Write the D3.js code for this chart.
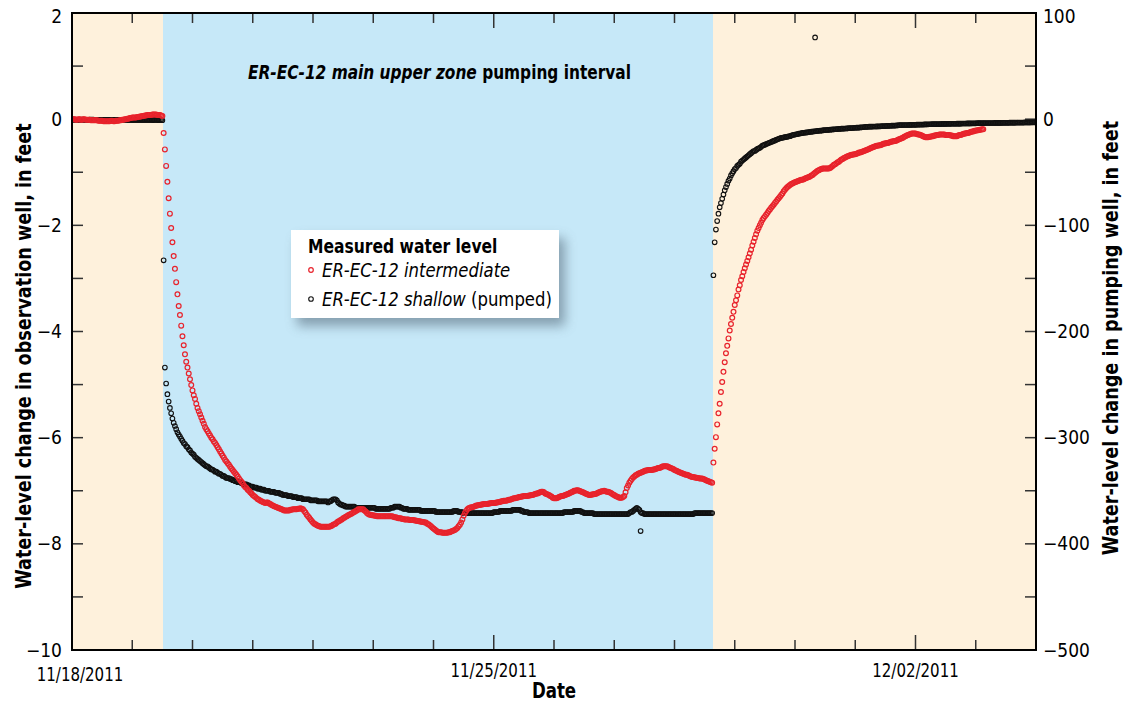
<!DOCTYPE html>
<html>
<head>
<meta charset="utf-8">
<title>ER-EC-12 water levels</title>
<script src="https://cdn.jsdelivr.net/npm/d3@7"></script>
<style>
  body { margin: 0; background: #fff; }
  text { font-family: "Liberation Sans Narrow", "Arial Narrow", "DejaVu Sans Condensed", sans-serif; }
</style>
</head>
<body>
<script>

// ---- data, 30-minute readings ----
// observation well (ER-EC-12 intermediate), feet, left axis
var redPreStart = "2011-11-18T00:00";
var redPre = [0.00,0.00,0.00,-0.01,-0.01,0.00,0.00,-0.01,-0.01,0.00,0.00,-0.01,-0.01,-0.01,-0.01,-0.02,-0.02,-0.02,-0.02,-0.02,
  -0.02,-0.03,-0.03,-0.03,-0.03,-0.04,-0.04,-0.04,-0.04,-0.04,-0.04,-0.03,-0.03,-0.04,-0.04,-0.03,-0.03,-0.03,-0.02,-0.02,
  -0.01,-0.01,0.00,0.00,0.01,0.01,0.02,0.02,0.03,0.03,0.03,0.03,0.04,0.04,0.05,0.05,0.06,0.06,0.07,0.07,
  0.08,0.08,0.08,0.08,0.09,0.09,0.09,0.09,0.08,0.08,0.08,0.07,0.06];

var redDrawdownStart = "2011-11-19T12:30";
var redDrawdown = [-0.26,-0.57,-0.88,-1.18,-1.49,-1.78,-2.05,-2.32,-2.58,-2.82,
  -3.07,-3.30,-3.52,-3.69,-3.89,-4.09,-4.26,-4.43,-4.57,-4.68,
  -4.79,-4.90,-5.01,-5.11,-5.20,-5.27,-5.36,-5.44,-5.50,-5.56,
  -5.62,-5.68,-5.74,-5.80,-5.84,-5.88,-5.92,-5.96,-6.00,-6.03,
  -6.07,-6.10,-6.14,-6.18,-6.22,-6.26,-6.30,-6.34,-6.38,-6.42,
  -6.45,-6.48,-6.51,-6.55,-6.58,-6.61,-6.64,-6.67,-6.70,-6.73,
  -6.77,-6.80,-6.83,-6.86,-6.90,-6.93,-6.95,-6.98,-7.00,-7.03,
  -7.05,-7.08,-7.10,-7.12,-7.14,-7.16,-7.17,-7.19,-7.20,-7.21,
  -7.22,-7.23];

var redPumpingStart = "2011-11-21T05:30";
var redPumping = [-7.22,
  -7.22,-7.24,-7.25,-7.27,-7.28,-7.29,-7.30,-7.31,-7.32,-7.33,-7.34,-7.35,-7.36,-7.37,-7.37,-7.37,-7.37,-7.37,-7.36,-7.36,
  -7.35,-7.35,-7.35,-7.35,-7.34,-7.34,-7.33,-7.34,-7.35,-7.38,-7.41,-7.45,-7.48,-7.51,-7.54,-7.57,-7.60,-7.62,-7.63,-7.65,
  -7.66,-7.67,-7.68,-7.68,-7.68,-7.68,-7.68,-7.68,-7.68,-7.68,-7.67,-7.66,-7.64,-7.63,-7.62,-7.60,-7.58,-7.57,-7.55,-7.54,
  -7.52,-7.51,-7.49,-7.48,-7.46,-7.45,-7.44,-7.43,-7.41,-7.40,-7.38,-7.37,-7.35,-7.35,-7.35,-7.35,-7.35,-7.37,-7.39,-7.42,
  -7.44,-7.45,-7.45,-7.46,-7.46,-7.47,-7.47,-7.48,-7.48,-7.48,-7.48,-7.48,-7.48,-7.48,-7.48,-7.48,-7.48,-7.48,-7.48,-7.48,
  -7.49,-7.50,-7.50,-7.51,-7.52,-7.52,-7.52,-7.53,-7.53,-7.54,-7.54,-7.54,-7.54,-7.55,-7.55,-7.55,-7.55,-7.56,-7.56,-7.57,
  -7.57,-7.58,-7.58,-7.59,-7.59,-7.60,-7.60,-7.62,-7.63,-7.65,-7.67,-7.69,-7.71,-7.73,-7.75,-7.77,-7.78,-7.78,-7.78,-7.79,
  -7.79,-7.79,-7.79,-7.79,-7.78,-7.78,-7.77,-7.76,-7.75,-7.74,-7.72,-7.70,-7.67,-7.64,-7.60,-7.54,-7.47,-7.42,-7.38,-7.35,
  -7.33,-7.32,-7.31,-7.31,-7.30,-7.29,-7.28,-7.28,-7.27,-7.27,-7.26,-7.26,-7.25,-7.25,-7.25,-7.25,-7.24,-7.24,-7.23,-7.23,
  -7.23,-7.23,-7.22,-7.22,-7.21,-7.21,-7.20,-7.20,-7.19,-7.19,-7.19,-7.18,-7.17,-7.17,-7.16,-7.15,-7.14,-7.14,-7.13,-7.13,
  -7.12,-7.12,-7.11,-7.11,-7.10,-7.10,-7.10,-7.10,-7.09,-7.09,-7.08,-7.08,-7.07,-7.06,-7.05,-7.05,-7.04,-7.03,-7.02,-7.02,
  -7.03,-7.05,-7.06,-7.07,-7.08,-7.10,-7.11,-7.13,-7.14,-7.14,-7.14,-7.13,-7.12,-7.11,-7.10,-7.10,-7.09,-7.08,-7.07,-7.06,
  -7.05,-7.04,-7.03,-7.02,-7.00,-7.00,-6.99,-6.99,-7.00,-7.01,-7.02,-7.03,-7.04,-7.05,-7.06,-7.07,-7.08,-7.08,-7.07,-7.07,
  -7.06,-7.06,-7.05,-7.04,-7.03,-7.02,-7.01,-7.01,-7.00,-7.01,-7.02,-7.02,-7.03,-7.04,-7.05,-7.07,-7.08,-7.10,-7.11,-7.12,
  -7.13,-7.13,-7.13,-7.12,-7.10,-7.03,-6.95,-6.90,-6.85,-6.81,-6.78,-6.75,-6.73,-6.71,-6.70,-6.68,-6.67,-6.66,-6.65,-6.64,
  -6.63,-6.62,-6.62,-6.61,-6.61,-6.61,-6.61,-6.60,-6.60,-6.59,-6.58,-6.57,-6.57,-6.56,-6.55,-6.54,-6.54,-6.54,-6.54,-6.55,
  -6.56,-6.57,-6.58,-6.59,-6.61,-6.62,-6.63,-6.64,-6.65,-6.66,-6.67,-6.68,-6.69,-6.70,-6.70,-6.71,-6.72,-6.73,-6.74,-6.74,
  -6.75,-6.75,-6.76,-6.76,-6.77,-6.77,-6.77,-6.78,-6.79,-6.80,-6.81,-6.82,-6.83,-6.84,-6.85];

var redRecoveryStart = "2011-11-28T15:30";
var redRecovery = [-6.47,-6.21,-5.99,-5.75,-5.54,-5.36,-5.14,-4.95,-4.76,-4.58,
  -4.41,-4.27,-4.13,-3.98,-3.86,-3.74,-3.63,-3.50,-3.41,-3.32,
  -3.21,-3.13,-3.03,-2.96,-2.88,-2.81,-2.74,-2.67,-2.60,-2.53,
  -2.46,-2.38,-2.31,-2.24,-2.17,-2.10];

var redLateStart = "2011-11-29T09:30";
var redLate = [-2.05,
  -2.00,-1.95,-1.90,-1.86,-1.83,-1.80,-1.77,-1.73,-1.70,-1.67,-1.64,-1.61,-1.58,-1.55,-1.52,-1.49,-1.46,-1.43,-1.40,-1.36,
  -1.33,-1.30,-1.28,-1.26,-1.24,-1.22,-1.21,-1.20,-1.19,-1.18,-1.17,-1.16,-1.15,-1.14,-1.14,-1.13,-1.12,-1.11,-1.10,-1.09,
  -1.08,-1.06,-1.05,-1.03,-1.01,-0.99,-0.97,-0.96,-0.95,-0.94,-0.93,-0.93,-0.93,-0.93,-0.93,-0.93,-0.92,-0.90,-0.88,-0.86,
  -0.85,-0.83,-0.81,-0.80,-0.78,-0.76,-0.75,-0.73,-0.72,-0.71,-0.70,-0.69,-0.68,-0.67,-0.67,-0.66,-0.66,-0.65,-0.64,-0.63,
  -0.63,-0.62,-0.61,-0.60,-0.59,-0.58,-0.57,-0.56,-0.55,-0.54,-0.53,-0.52,-0.51,-0.50,-0.50,-0.49,-0.49,-0.48,-0.47,-0.46,
  -0.46,-0.45,-0.45,-0.44,-0.43,-0.42,-0.42,-0.41,-0.41,-0.40,-0.39,-0.38,-0.37,-0.36,-0.35,-0.33,-0.32,-0.31,-0.30,-0.29,
  -0.28,-0.27,-0.27,-0.27,-0.27,-0.28,-0.29,-0.29,-0.30,-0.31,-0.32,-0.33,-0.34,-0.34,-0.34,-0.33,-0.33,-0.32,-0.32,-0.31,
  -0.31,-0.30,-0.30,-0.29,-0.29,-0.29,-0.29,-0.29,-0.30,-0.30,-0.30,-0.30,-0.31,-0.31,-0.32,-0.32,-0.32,-0.32,-0.31,-0.30,
  -0.30,-0.29,-0.28,-0.27,-0.27,-0.26,-0.26,-0.25,-0.24,-0.23,-0.23,-0.22,-0.22,-0.21,-0.21,-0.20,-0.20,-0.19,-0.19];

// pumping well (ER-EC-12 shallow), feet, right axis
var blackPreStart = "2011-11-18T00:00";
var blackPre = [-0.5,-0.5,-0.5,-0.5,-0.6,-0.6,-0.5,-0.5,-0.5,-0.5,-0.6,-0.6,-0.6,-0.6,-0.5,-0.5,-0.5,-0.5,-0.6,-0.6,
  -0.6,-0.6,-0.7,-0.7,-0.6,-0.6,-0.6,-0.6,-0.7,-0.7,-0.7,-0.7,-0.6,-0.6,-0.6,-0.6,-0.7,-0.7,-0.7,-0.7,
  -0.6,-0.6,-0.6,-0.6,-0.7,-0.7,-0.7,-0.7,-0.8,-0.8,-0.7,-0.7,-0.7,-0.7,-0.8,-0.8,-0.8,-0.8,-0.7,-0.7,
  -0.8,-0.8,-0.8,-0.8,-0.9,-0.9,-0.8,-0.8,-0.9,-0.9,-0.9,-0.9,-1.0];

var blackDrawdownStart = "2011-11-19T12:30";
var blackDrawdown = [-133,-234,-249,-259,-266,-272,-277,-282,-286,-289,
  -292,-295,-297,-299,-301,-303,-305,-306,-308,-309,
  -311,-312,-314,-315,-316,-318,-319,-320,-321,-322,
  -323,-324,-325,-326,-327,-327,-328,-329,-330,-330,
  -331,-332,-332,-333,-334,-334,-335,-336,-336,-337,
  -338,-338,-338,-339,-339,-340,-340,-341,-341,-342,
  -342,-342,-343,-343,-344,-344,-344,-345,-345,-346,
  -346,-346,-347,-347,-347,-348,-348,-348,-349,-349,
  -349,-350];

var blackPumpingStart = "2011-11-21T05:30";
var blackPumping = [-350,
  -350,-350,-351,-351,-351,-351,-352,-352,-352,-352,-353,-353,-354,-354,-354,-354,-355,-355,-355,-355,
  -356,-356,-356,-356,-357,-357,-357,-357,-358,-358,-358,-358,-358,-358,-359,-359,-359,-359,-359,-359,
  -360,-360,-360,-360,-360,-360,-360,-360,-361,-360,-360,-359,-358,-358,-358,-359,-361,-362,-363,-363,
  -364,-364,-365,-365,-365,-365,-365,-365,-365,-365,-366,-366,-366,-366,-366,-366,-366,-366,-366,-366,
  -366,-366,-366,-366,-366,-366,-367,-367,-367,-367,-367,-367,-367,-367,-367,-367,-367,-367,-366,-366,
  -366,-365,-365,-365,-365,-365,-366,-366,-367,-367,-367,-367,-368,-368,-368,-368,-368,-368,-368,-368,
  -368,-368,-369,-369,-369,-369,-369,-369,-369,-369,-369,-369,-369,-369,-370,-370,-370,-370,-370,-370,
  -370,-370,-370,-370,-370,-370,-370,-370,-369,-369,-369,-369,-370,-370,-370,-370,-371,-371,-371,-371,
  -371,-371,-371,-371,-371,-371,-371,-371,-371,-371,-371,-371,-371,-371,-371,-371,-371,-371,-371,-371,
  -370,-370,-370,-370,-370,-369,-369,-369,-369,-369,-369,-369,-369,-369,-369,-368,-368,-368,-368,-368,
  -368,-368,-369,-369,-370,-370,-370,-370,-371,-371,-371,-371,-371,-371,-371,-371,-371,-371,-371,-371,
  -371,-371,-371,-371,-371,-371,-371,-371,-371,-371,-371,-371,-371,-371,-371,-371,-370,-370,-370,-370,
  -370,-370,-370,-370,-369,-369,-369,-369,-369,-369,-370,-370,-371,-371,-371,-371,-371,-371,-371,-371,
  -372,-372,-372,-372,-372,-372,-372,-372,-372,-372,-372,-372,-372,-372,-372,-372,-372,-372,-372,-372,
  -372,-372,-372,-372,-372,-372,-372,-372,-371,-370,-370,-369,-368,-367,-366,-367,-368,-370,-371,-371,
  -372,-372,-372,-372,-372,-372,-372,-372,-372,-372,-372,-372,-372,-372,-372,-372,-372,-372,-372,-372,
  -372,-372,-372,-372,-372,-372,-372,-372,-372,-372,-372,-372,-372,-372,-372,-372,-372,-372,-372,-372,
  -371,-371,-371,-371,-371,-371,-371,-371,-371,-371,-371,-371,-371,-371,-371];

var blackRecoveryStart = "2011-11-28T15:30";
var blackRecovery = [-147,-116,-104,-96,-89,-83,-79,-75,-71,-67,
  -64,-61,-58,-56,-53,-51,-49,-47,-46,-44,
  -43,-42,-40,-39,-38,-37,-36,-35,-34,-33,
  -32,-31,-30,-30,-29,-28];

var blackLateStart = "2011-11-29T09:30";
var blackLate = [-27.5,
  -27,-26,-25,-24.5,-24,-23.5,-23,-22.5,-22,-21.5,-21,-20.5,-20,-19.5,-19,-18.5,-18,-17.7,-17.5,-17.2,
  -17,-16.7,-16.5,-16.2,-16,-15.5,-15,-14.7,-14.5,-14.2,-14,-13.7,-13.5,-13.2,-13,-12.8,-12.7,-12.5,-12.4,-12.2,
  -12,-11.8,-11.7,-11.5,-11.4,-11.2,-11.1,-10.9,-10.8,-10.7,-10.6,-10.4,-10.3,-10.2,-10.1,-10.0,-9.9,-9.8,-9.7,-9.6,
  -9.5,-9.4,-9.3,-9.2,-9.1,-9.0,-9.0,-8.9,-8.8,-8.7,-8.6,-8.5,-8.5,-8.4,-8.3,-8.2,-8.1,-8.0,-8.0,-7.9,
  -7.8,-7.7,-7.6,-7.4,-7.3,-7.2,-7.2,-7.1,-7.1,-7.0,-7.0,-6.9,-6.9,-6.8,-6.8,-6.7,-6.7,-6.6,-6.6,-6.5,
  -6.5,-6.4,-6.4,-6.3,-6.2,-6.1,-6.1,-6.0,-6.0,-5.9,-5.8,-5.7,-5.7,-5.6,-5.6,-5.5,-5.5,-5.5,-5.5,-5.4,
  -5.4,-5.3,-5.3,-5.3,-5.3,-5.2,-5.2,-5.1,-5.1,-5.1,-5.1,-5.0,-5.0,-4.9,-4.9,-4.8,-4.8,-4.7,-4.7,-4.7,
  -4.7,-4.6,-4.6,-4.6,-4.6,-4.5,-4.5,-4.5,-4.5,-4.4,-4.4,-4.4,-4.4,-4.3,-4.3,-4.3,-4.3,-4.2,-4.2,-4.2,
  -4.2,-4.1,-4.1,-4.1,-4.1,-4.0,-4.0,-4.0,-4.0,-3.9,-3.9,-3.9,-3.9,-3.8,-3.8,-3.8,-3.8,-3.7,-3.7,-3.7,
  -3.7,-3.6,-3.6,-3.6,-3.6,-3.6,-3.6,-3.5,-3.5,-3.5,-3.5,-3.5,-3.5,-3.4,-3.4,-3.4,-3.4,-3.4,-3.4,-3.3,
  -3.3,-3.3,-3.3,-3.3,-3.3,-3.2,-3.2,-3.2,-3.2,-3.2,-3.2,-3.1,-3.1,-3.1,-3.1,-3.1,-3.1,-3.0,-3.0,-3.0,
  -3.0];

var blackOutlierTimes = ["2011-11-27T10:30", "2011-11-30T08:00"];
var blackOutlierValues = [-388, 77];

// pumping interval and axis labels
var pumpStart = "2011-11-19T12:15", pumpStop = "2011-11-28T15:20";
var dateLabels = ["11/18/2011", "11/25/2011", "12/02/2011"];
var leftTicks = [2, 0, -2, -4, -6, -8, -10];
var rightTicks = [100, 0, -100, -200, -300, -400, -500];

// ---- chart ----
var width = 1125, height = 702;
var margin = {left: 72, right: 89, top: 13, bottom: 52};
var x0 = margin.left, x1 = width - margin.right;
var y0 = margin.top, y1 = height - margin.bottom;
var step = 30; // minutes between readings

var parse = d3.timeParse("%Y-%m-%dT%H:%M");

var x = d3.scaleTime()
  .domain([new Date(2011, 10, 18), new Date(2011, 11, 4)])
  .range([x0, x1]);
var yL = d3.scaleLinear().domain([-10, 2]).range([y1, y0]);
var yR = d3.scaleLinear().domain([-500, 100]).range([y1, y0]);

function series(start, vals) {
  var t0 = parse(start);
  return vals.map(function(v, i) { return {t: d3.timeMinute.offset(t0, i * step), v: v}; });
}

var redData = [].concat(
  series(redPreStart, redPre),
  series(redDrawdownStart, redDrawdown),
  series(redPumpingStart, redPumping),
  series(redRecoveryStart, redRecovery),
  series(redLateStart, redLate));

var blackData = [].concat(
  series(blackPreStart, blackPre),
  series(blackDrawdownStart, blackDrawdown),
  series(blackPumpingStart, blackPumping),
  series(blackRecoveryStart, blackRecovery),
  series(blackLateStart, blackLate),
  blackOutlierTimes.map(function(s, i) { return {t: parse(s), v: blackOutlierValues[i]}; }));

var svg = d3.select("body").append("svg")
  .attr("width", width)
  .attr("height", height);

var defs = svg.append("defs");
defs.append("clipPath").attr("id", "plot")
  .append("rect").attr("x", x0).attr("y", y0).attr("width", x1 - x0).attr("height", y1 - y0);
defs.append("filter").attr("id", "blur")
  .attr("x", "-20%").attr("y", "-30%").attr("width", "140%").attr("height", "160%")
  .append("feGaussianBlur").attr("stdDeviation", 6);

// text squeezed sideways to mimic the condensed face of the original
function label(parent, tx, ty, sx, rot) {
  var tr = "translate(" + tx + "," + ty + ")" + (rot ? " rotate(" + rot + ")" : "") + " scale(" + sx + ",1)";
  return parent.append("text").attr("transform", tr);
}

// background bands
var ps = parse(pumpStart), pe = parse(pumpStop);
svg.append("rect").attr("x", x0).attr("y", y0).attr("width", x1 - x0).attr("height", y1 - y0)
  .attr("fill", "#fef1dc");
svg.append("rect").attr("x", x(ps)).attr("y", y0).attr("width", x(pe) - x(ps)).attr("height", y1 - y0)
  .attr("fill", "#c6e8f8");

// ticks (inward)
var days = d3.timeDay.range(x.domain()[0], d3.timeDay.offset(x.domain()[1], 1));
var majorDays = dateLabels.map(function(s) { return d3.timeParse("%m/%d/%Y")(s); });
function isMajor(d) { return majorDays.some(function(m) { return +m === +d; }); }

var tg = svg.append("g").attr("stroke", "#333").attr("stroke-width", 1.5);
days.forEach(function(d) {
  var len = isMajor(d) ? 15 : 10;
  tg.append("line").attr("x1", x(d)).attr("x2", x(d)).attr("y1", y1).attr("y2", y1 - len);
  tg.append("line").attr("x1", x(d)).attr("x2", x(d)).attr("y1", y0).attr("y2", y0 + len);
});
d3.range(-10, 3, 1).forEach(function(v) {
  tg.append("line").attr("x1", x0).attr("x2", x0 + 11).attr("y1", yL(v)).attr("y2", yL(v));
});
d3.range(-500, 101, 50).forEach(function(v) {
  tg.append("line").attr("x1", x1).attr("x2", x1 - 11).attr("y1", yR(v)).attr("y2", yR(v));
});

// data points
var plot = svg.append("g").attr("clip-path", "url(#plot)");
plot.append("g").selectAll("circle").data(blackData).enter().append("circle")
  .attr("cx", function(d) { return x(d.t); })
  .attr("cy", function(d) { return yR(d.v); })
  .attr("r", 2.3)
  .attr("fill", "none")
  .attr("stroke", "#111")
  .attr("stroke-width", 1.1);
plot.append("g").selectAll("circle").data(redData).enter().append("circle")
  .attr("cx", function(d) { return x(d.t); })
  .attr("cy", function(d) { return yL(d.v); })
  .attr("r", 2.4)
  .attr("fill", "none")
  .attr("stroke", "#e8232c")
  .attr("stroke-width", 1.2);

// frame
svg.append("rect").attr("x", x0).attr("y", y0).attr("width", x1 - x0).attr("height", y1 - y0)
  .attr("fill", "none").attr("stroke", "#000").attr("stroke-width", 2);

// tick labels
var fmt = d3.format("d");
svg.append("g").selectAll("text").data(leftTicks).enter().append("text")
  .attr("x", x0 - 10)
  .attr("y", function(d) { return yL(d) + (d === 2 ? 3 : 0); })
  .attr("dy", "0.35em")
  .attr("text-anchor", "end")
  .style("font-size", "19px")
  .text(function(d) { return fmt(d); });
svg.append("g").selectAll("text").data(rightTicks).enter().append("text")
  .attr("x", x1 + 7)
  .attr("y", function(d) { return yR(d) + (d === 100 ? 3 : 0); })
  .attr("dy", "0.35em")
  .attr("text-anchor", "start")
  .style("font-size", "19px")
  .text(function(d) { return fmt(d); });
dateLabels.forEach(function(s, i) {
  label(svg, x(majorDays[i]) + (i === 0 ? 8 : 0), i === 0 ? 681 : 677, 0.88)
    .attr("text-anchor", "middle").style("font-size", "19px").text(s);
});

// axis titles
label(svg, (x0 + x1) / 2, 698, 0.88)
  .attr("text-anchor", "middle").style("font-size", "21px").style("font-weight", "bold")
  .text("Date");
label(svg, 31, 356, 0.89, -90)
  .attr("text-anchor", "middle").style("font-size", "22px").style("font-weight", "bold")
  .text("Water-level change in observation well, in feet");
label(svg, 1118, 338, 0.89, -90)
  .attr("text-anchor", "middle").style("font-size", "22px").style("font-weight", "bold")
  .text("Water-level change in pumping well, in feet");

// pumping interval note
var note = label(svg, 248, 79, 0.9).style("font-size", "19px").style("font-weight", "bold");
note.append("tspan").style("font-style", "italic").text("ER-EC-12 main upper zone");
note.append("tspan").text(" pumping interval");

// legend
var lg = svg.append("g").attr("transform", "translate(291,230)");
lg.append("rect").attr("x", 6).attr("y", 8).attr("width", 268).attr("height", 88)
  .attr("fill", "#6f8797").attr("opacity", 0.75).attr("filter", "url(#blur)");
lg.append("rect").attr("width", 268).attr("height", 88).attr("fill", "#fff");
label(lg, 17, 23, 0.91).style("font-size", "19px").style("font-weight", "bold").text("Measured water level");
lg.append("circle").attr("cx", 20).attr("cy", 40).attr("r", 2.3)
  .attr("fill", "none").attr("stroke", "#e8232c").attr("stroke-width", 1.2);
label(lg, 31, 47, 0.965).style("font-size", "19px").style("font-style", "italic")
  .text("ER-EC-12 intermediate");
lg.append("circle").attr("cx", 20).attr("cy", 69).attr("r", 2.3)
  .attr("fill", "none").attr("stroke", "#111").attr("stroke-width", 1.1);
var l2 = label(lg, 31, 76, 0.965).style("font-size", "19px");
l2.append("tspan").style("font-style", "italic").text("ER-EC-12 shallow");
l2.append("tspan").text(" (pumped)");

</script>
</body>
</html>
